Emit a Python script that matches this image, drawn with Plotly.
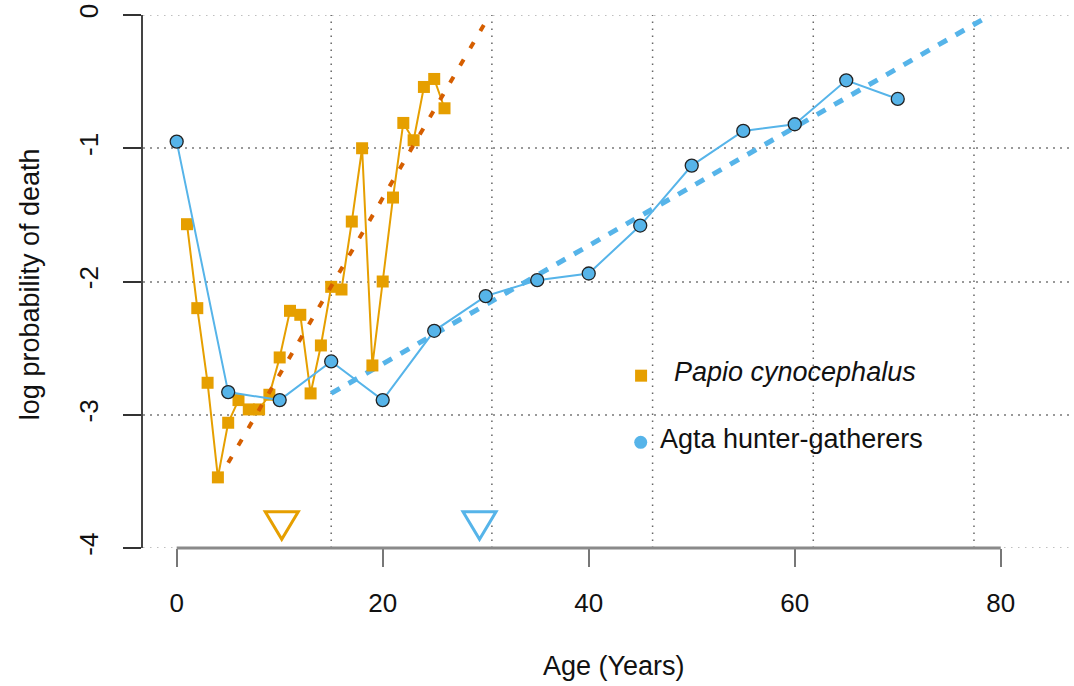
import plotly.graph_objects as go

# Log probability of death by age, yellow baboons (yearly age classes)
papio_age = list(range(1, 27))
papio_logq = [-1.57, -2.20, -2.76, -3.47, -3.06, -2.89, -2.96, -2.96, -2.85, -2.57,
              -2.22, -2.25, -2.84, -2.48, -2.04, -2.06, -1.55, -1.00, -2.63, -2.00,
              -1.37, -0.81, -0.94, -0.54, -0.48, -0.70]

# Log probability of death by age, Agta hunter-gatherers (five-year age classes)
agta_age = [0, 5, 10, 15, 20, 25, 30, 35, 40, 45, 50, 55, 60, 65, 70]
agta_logq = [-0.95, -2.83, -2.89, -2.60, -2.89, -2.37, -2.11, -1.99, -1.94, -1.58,
             -1.13, -0.87, -0.82, -0.49, -0.63]

# Gompertz fits (straight on the log scale): end points of each fitted segment
papio_fit_age = [5, 30]
papio_fit_logq = [-3.36, -0.05]
agta_fit_age = [15, 79]
agta_fit_logq = [-2.84, 0.0]

# Ages flagged with open triangles along the bottom of the panel
flag_age = [10.2, 29.4]
flag_logq = -3.80

x_ticks = [0, 20, 40, 60, 80]
y_ticks = [0, -1, -2, -3, -4]
y_tick_text = ["0", "-1", "-2", "-3", "-4"]
grid_x = [15.0, 30.6, 46.2, 61.8, 77.4]

ORANGE = "#E69F00"
BLUE = "#56B4E9"
VERMILLION = "#D55E00"
FONT = "Liberation Sans, Arial, sans-serif"
GRID_DASH = "1.5px,5.5px"

fig = go.Figure()

fig.add_trace(go.Scatter(
    x=agta_fit_age, y=agta_fit_logq, mode="lines",
    line=dict(color=BLUE, width=5, dash="10px,10px"), hoverinfo="skip"))

fig.add_trace(go.Scatter(
    x=papio_age, y=papio_logq, mode="lines+markers", name="Papio cynocephalus",
    line=dict(color=ORANGE, width=2),
    marker=dict(symbol="square", size=12, color=ORANGE)))

fig.add_trace(go.Scatter(
    x=papio_fit_age, y=papio_fit_logq, mode="lines",
    line=dict(color=VERMILLION, width=4, dash="7px,13px"), hoverinfo="skip"))

fig.add_trace(go.Scatter(
    x=agta_age, y=agta_logq, mode="lines+markers", name="Agta hunter-gatherers",
    line=dict(color=BLUE, width=2),
    marker=dict(symbol="circle", size=13, color=BLUE,
                line=dict(color="#222", width=1.3))))

shapes = []
# extra dotted vertical grid
for gx in grid_x:
    shapes.append(dict(type="line", xref="x", yref="paper", x0=gx, x1=gx, y0=0, y1=1,
                       line=dict(color="#666", width=1.5, dash=GRID_DASH),
                       layer="below"))
# horizontal grid at the two range limits (not drawn by the axis itself)
for gy in (y_ticks[0], y_ticks[-1]):
    shapes.append(dict(type="line", xref="paper", yref="y", x0=0, x1=1, y0=gy, y1=gy,
                       line=dict(color="#aaa", width=1.5, dash=GRID_DASH),
                       layer="below"))
# x axis spine spanning the labelled ticks
shapes.append(dict(type="line", xref="x", yref="paper", x0=x_ticks[0], x1=x_ticks[-1],
                   y0=0, y1=0, line=dict(color="#8a8a8a", width=3), layer="above"))
# open downward triangles
for age, col in zip(flag_age, [ORANGE, BLUE]):
    shapes.append(dict(type="path", xref="x", yref="y", xsizemode="pixel",
                       ysizemode="pixel", xanchor=age, yanchor=flag_logq,
                       path="M-16.5,9.5 L16.5,9.5 L0,-18 Z",
                       line=dict(color=col, width=3), fillcolor="rgba(0,0,0,0)",
                       layer="above"))
# legend keys
shapes.append(dict(type="rect", xref="paper", yref="paper", xsizemode="pixel",
                   ysizemode="pixel", xanchor=0.535, yanchor=0.3233,
                   x0=-6, x1=6, y0=-6, y1=6, fillcolor=ORANGE, line=dict(width=0)))
shapes.append(dict(type="circle", xref="paper", yref="paper", xsizemode="pixel",
                   ysizemode="pixel", xanchor=0.5346, yanchor=0.1983,
                   x0=-6.5, x1=6.5, y0=-6.5, y1=6.5, fillcolor=BLUE, line=dict(width=0)))

annotations = [
    dict(text="<i>Papio cynocephalus</i>", xref="paper", yref="paper",
         x=0.5679, y=0.3293, xanchor="left", yanchor="middle", showarrow=False,
         font=dict(size=27, color="#111", family=FONT)),
    dict(text="Agta hunter-gatherers", xref="paper", yref="paper",
         x=0.5533, y=0.2045, xanchor="left", yanchor="middle", showarrow=False,
         font=dict(size=27, color="#111", family=FONT)),
    dict(text="Age (Years)", xref="paper", yref="paper", x=0.506, y=-0.2214,
         xanchor="center", yanchor="middle", showarrow=False,
         font=dict(size=27, color="#111", family=FONT)),
    dict(text="log probability of death", xref="paper", yref="paper", x=-0.1214,
         y=0.495, xanchor="center", yanchor="middle", textangle=-90, showarrow=False,
         font=dict(size=27, color="#111", family=FONT)),
]

fig.update_layout(
    width=1074, height=686,
    margin=dict(l=143, r=0, t=15, b=138),
    plot_bgcolor="white", paper_bgcolor="white",
    showlegend=False,
    font=dict(family=FONT, size=26, color="#111"),
    xaxis=dict(range=[-3.27, 87.11], tickvals=x_ticks, ticks="outside", ticklen=18,
               tickwidth=1.5, tickcolor="#777", showline=False, showgrid=False,
               zeroline=False, ticklabelstandoff=14, tickfont=dict(size=26)),
    yaxis=dict(range=[-4, 0], tickvals=y_ticks, ticktext=y_tick_text,
               ticks="outside", ticklen=18,
               tickwidth=1.5, tickcolor="#333", showline=True, linecolor="#444",
               linewidth=1.5, showgrid=True, gridcolor="#999", gridwidth=1.5,
               griddash=GRID_DASH, zeroline=False, tickangle=-90,
               ticklabelstandoff=15, tickfont=dict(size=26)),
    shapes=shapes,
    annotations=annotations,
)

fig.write_html("out.html")
